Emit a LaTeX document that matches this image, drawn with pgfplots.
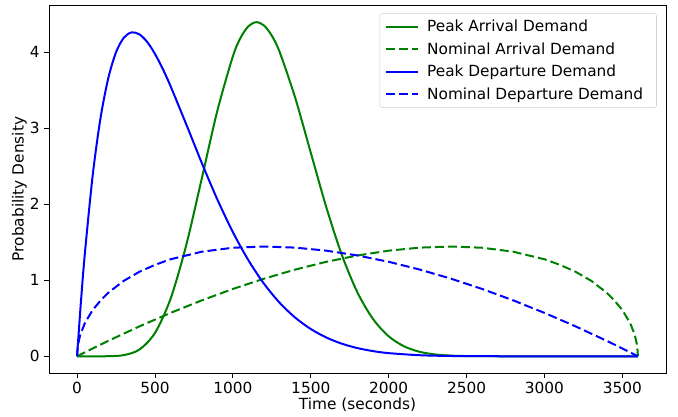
\documentclass[border=0pt]{standalone}
\usepackage{fontspec}
\setmainfont{DejaVu Sans}
\usepackage{pgfplots}
\pgfplotsset{compat=1.18}
\usetikzlibrary{calc}
\definecolor{mplgreen}{RGB}{0,128,0}
\definecolor{mplblue}{RGB}{0,0,255}

\begin{document}
\begin{tikzpicture}
\begin{axis}[name=ax,
  scale only axis, width=462.75pt, height=276pt,
  xmin=-180, xmax=3780, ymin=-0.22, ymax=4.62,
  xtick={0,500,...,3500}, ytick={0,1,2,3,4},
  tick align=outside, tick pos=left,
  major tick length=3.5pt,
  every tick/.style={black, line width=0.6pt},
  axis line style={line width=0.6pt},
  /pgf/number format/assume math mode=true,
  /pgf/number format/set thousands separator={},
  ticklabel style={font=\fontsize{11.5}{13}\selectfont},
  label style={font=\fontsize{11.5}{13}\selectfont},
  xlabel={Time (seconds)}, ylabel={Probability Density},
  xlabel style={yshift=4pt}, ylabel style={yshift=-4.5pt},
  legend cell align=left,
  legend style={at={(0.985,0.978)}, anchor=north east,
    font=\fontsize{11.5}{13}\selectfont,
    draw=black!18, rounded corners=2pt, fill=white,
    row sep=2.6pt, inner xsep=4pt, inner ysep=3pt,
    nodes={inner xsep=6pt}},
  legend image code/.code={\draw[#1] (0pt,0pt) -- (24pt,0pt);},
  every axis plot/.append style={line width=1.5pt},
]
% Peak Arrival Demand
\addplot[mplgreen, smooth] coordinates {
(0,0) (100,0.00001) (200,0.001) (300,0.0149) (400,0.0882) (500,0.3065)
(600,0.7546) (700,1.4554) (800,2.3329) (900,3.2253) (1000,3.944)
(1050,4.190) (1100,4.341) (1150,4.394) (1200,4.350) (1250,4.216)
(1300,4.003) (1400,3.401) (1500,2.678) (1600,1.9586) (1700,1.330)
(1800,0.838) (1900,0.4888) (2000,0.2629) (2100,0.1296) (2200,0.0582)
(2300,0.0236) (2400,0.0085) (2500,0.0027) (2600,0.0007) (2800,0)
(3000,0) (3300,0) (3600,0)};
\addlegendentry{Peak Arrival Demand}
% Nominal Arrival Demand
\addplot[mplgreen, dash pattern=on 6.75pt off 3pt] coordinates {
(0,0) (100,0.1027) (200,0.2025) (400,0.3928) (600,0.5705) (800,0.7349)
(1000,0.8852) (1200,1.0206) (1400,1.1400) (1600,1.2423) (1800,1.3258)
(2000,1.3889) (2200,1.4291) (2400,1.4434) (2600,1.4274) (2800,1.3749)
(3000,1.2758) (3100,1.2020) (3200,1.1111) (3300,0.9923) (3400,0.8348)
(3450,0.7308) (3500,0.6076) (3550,0.4358) (3580,0.2780) (3595,0.1396)
(3600,0)};
\addlegendentry{Nominal Arrival Demand}
% Peak Departure Demand
\addplot[mplblue, smooth] coordinates {
(0,0) (25,0.7175) (50,1.3471) (100,2.3714) (150,3.1251) (200,3.6534)
(250,3.9968) (300,4.1893) (350,4.2597) (400,4.2344) (450,4.1343)
(500,3.9774) (550,3.7797) (600,3.5532) (700,3.0550) (800,2.5456)
(900,2.0647) (1000,1.6335) (1100,1.2624) (1200,0.9538) (1300,0.7045)
(1400,0.5085) (1500,0.3586) (1600,0.2466) (1700,0.1651) (1800,0.1074)
(1900,0.0678) (2000,0.0414) (2200,0.0137) (2400,0.0037) (2600,0.0008)
(2800,0.0001) (3000,0) (3300,0) (3600,0)};
\addlegendentry{Peak Departure Demand}
% Nominal Departure Demand
\addplot[mplblue, dash pattern=on 6.75pt off 3pt] coordinates {
(0,0) (5,0.1396) (20,0.2780) (50,0.4358) (100,0.6076) (150,0.7308)
(200,0.8348) (300,0.9923) (400,1.1111) (500,1.2020) (600,1.2758)
(800,1.3749) (1000,1.4274) (1200,1.4434) (1400,1.4291) (1600,1.3889)
(1800,1.3258) (2000,1.2423) (2200,1.1400) (2400,1.0206) (2600,0.8852)
(2800,0.7349) (3000,0.5705) (3200,0.3928) (3400,0.2025) (3500,0.1027)
(3600,0)};
\addlegendentry{Nominal Departure Demand}
\end{axis}
\pgfresetboundingbox
\path ($(ax.south west)+(-36.75pt,-33pt)$) rectangle ($(ax.north east)+(9pt,3.75pt)$);
\end{tikzpicture}
\end{document}
